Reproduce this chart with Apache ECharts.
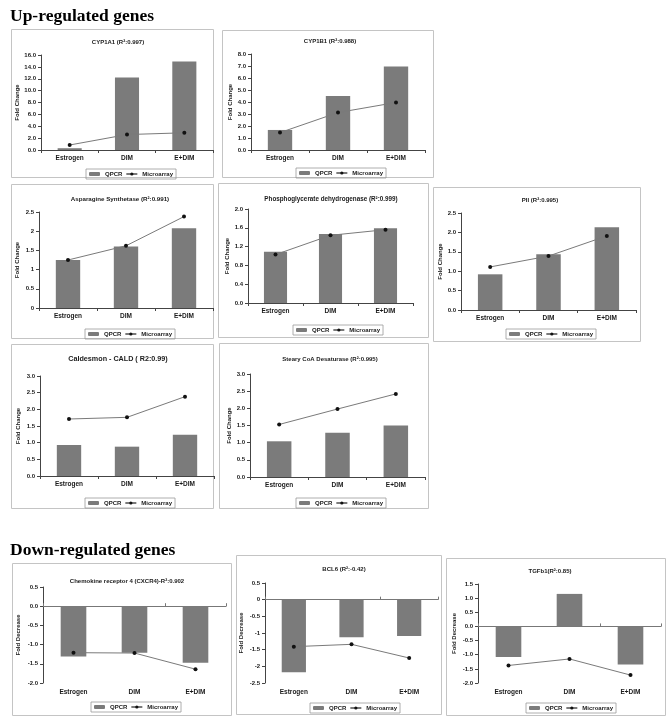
<!DOCTYPE html>
<html>
<head>
<meta charset="utf-8">
<script src="https://cdn.jsdelivr.net/npm/echarts@6/dist/echarts.min.js"></script>
<style>
html,body{margin:0;padding:0;background:#fff;}
#chart{width:669px;height:724px;}
</style>
</head>
<body>
<div id="chart"></div>
<script>
// ---- data ----
const categories = ['Estrogen', 'DIM', 'E+DIM'];
const seriesNames = ['QPCR', 'Microarray'];

const cyp1a1Qpcr = [0.3, 12.2, 14.9];
const cyp1a1Micro = [0.84, 2.6, 2.9];
const cyp1b1Qpcr = [1.67, 4.51, 6.95];
const cyp1b1Micro = [1.45, 3.12, 3.96];
const asnsQpcr = [1.25, 1.60, 2.08];
const asnsMicro = [1.25, 1.62, 2.38];
const phgdhQpcr = [1.09, 1.47, 1.59];
const phgdhMicro = [1.03, 1.44, 1.56];
const piiQpcr = [0.92, 1.44, 2.13];
const piiMicro = [1.11, 1.39, 1.91];
const caldQpcr = [0.93, 0.88, 1.24];
const caldMicro = [1.71, 1.76, 2.38];
const scdQpcr = [1.04, 1.29, 1.50];
const scdMicro = [1.53, 1.98, 2.42];
const cxcr4Qpcr = [-1.31, -1.21, -1.47];
const cxcr4Micro = [-1.21, -1.22, -1.64];
const bcl6Qpcr = [-2.18, -1.13, -1.09];
const bcl6Micro = [-1.41, -1.34, -1.75];
const tgfb1Qpcr = [-1.08, 1.15, -1.35];
const tgfb1Micro = [-1.38, -1.15, -1.72];

const headings = ['Up-regulated genes', 'Down-regulated genes'];

// ---- layout ----
const FONT = '"Liberation Sans", Arial, sans-serif';
const panels = [
  {title:'CYP1A1 (R²:0.997)', qpcr:cyp1a1Qpcr, micro:cyp1a1Micro, yName:'Fold Change', yMin:0, yMax:16, yStep:2, dec:1,
   box:[11,29,202,148], grid:[41,55,172,95], tpos:[113,38], tsize:6, gap:19, legend:[86,169]},
  {title:'CYP1B1 (R²:0.988)', qpcr:cyp1b1Qpcr, micro:cyp1b1Micro, yName:'Fold Change', yMin:0, yMax:8, yStep:1, dec:1,
   box:[222,30,211,147], grid:[251,54,174,96], tpos:[325,37], tsize:6, gap:18, legend:[296,168]},
  {title:'Asparagine Synthetase (R²:0.991)', qpcr:asnsQpcr, micro:asnsMicro, yName:'Fold Change', yMin:0, yMax:2.5, yStep:0.5, dec:null,
   box:[11,184,202,154], grid:[39,212,174,96], tpos:[115,195], tsize:6.2, gap:19, legend:[85,329]},
  {title:'Phosphoglycerate dehydrogenase (R²:0.999)', qpcr:phgdhQpcr, micro:phgdhMicro, yName:'Fold Change', yMin:0, yMax:2.0, yStep:0.4, dec:1,
   box:[218,183,210,154], grid:[248,209,165,94], tpos:[326,195], tsize:6.3, gap:17, legend:[293,325]},
  {title:'PII (R²:0.995)', qpcr:piiQpcr, micro:piiMicro, yName:'Fold Change', yMin:0, yMax:2.5, yStep:0.5, dec:1,
   box:[433,187,207,154], grid:[461,213,175,97], tpos:[535,196], tsize:6, gap:18, legend:[506,329]},
  {title:'Caldesmon - CALD ( R2:0.99)', qpcr:caldQpcr, micro:caldMicro, yName:'Fold Change', yMin:0, yMax:3, yStep:0.5, dec:1,
   box:[11,344,202,164], grid:[40,376,174,100], tpos:[113,355], tsize:7.2, gap:19, legend:[85,498]},
  {title:'Steary CoA Desaturase (R²:0.995)', qpcr:scdQpcr, micro:scdMicro, yName:'Fold Change', yMin:0, yMax:3, yStep:0.5, dec:1,
   box:[219,343,209,165], grid:[250,374,175,103], tpos:[325,355], tsize:6, gap:18, legend:[296,498]},
  {title:'Chemokine receptor 4 (CXCR4)-R²:0.902', qpcr:cxcr4Qpcr, micro:cxcr4Micro, yName:'Fold Decrease', yMin:-2, yMax:0.5, yStep:0.5, dec:1, down:true,
   box:[12,563,219,152], grid:[43,587,183,96], tpos:[122,577], tsize:6, gap:22, legend:[91,702]},
  {title:'BCL6 (R²:-0.42)', qpcr:bcl6Qpcr, micro:bcl6Micro, yName:'Fold Decrease', yMin:-2.5, yMax:0.5, yStep:0.5, dec:null, down:true,
   box:[236,555,205,159], grid:[265,583,173,100], tpos:[339,565], tsize:6, gap:21, legend:[310,703]},
  {title:'TGFb1(R²:0.85)', qpcr:tgfb1Qpcr, micro:tgfb1Micro, yName:'Fold Decrease', yMin:-2, yMax:1.5, yStep:0.5, dec:1, down:true,
   box:[446,558,219,157], grid:[478,584,183,99], tpos:[545,567], tsize:6, gap:21, legend:[526,703]}
];

const AXIS_COLOR = '#444';
const TEXT_COLOR = '#1a1a1a';

const titles = [], legends = [], grids = [], xAxes = [], yAxes = [], series = [], graphics = [];

panels.forEach((p, i) => {
  titles.push({
    text: p.title, left: p.tpos[0], top: p.tpos[1] - p.tsize * 0.6, textAlign: 'center',
    textStyle: {fontSize: p.tsize, fontWeight: 'bold', fontFamily: FONT, color: TEXT_COLOR}
  });
  legends.push({
    data: seriesNames, left: p.legend[0], top: p.legend[1], orient: 'horizontal',
    itemWidth: 11, itemHeight: 4, itemGap: 3, padding: [2, 3],
    borderColor: '#9a9a9a', borderWidth: 0.8,
    textStyle: {fontSize: 6, fontWeight: 'bold', fontFamily: FONT, color: TEXT_COLOR}
  });
  grids.push({left: p.grid[0], top: p.grid[1], width: p.grid[2], height: p.grid[3]});

  const labelAxisIndex = xAxes.length;
  xAxes.push({
    gridIndex: i, type: 'category', data: categories, position: 'bottom',
    axisLine: {show: !p.down, onZero: false, lineStyle: {color: AXIS_COLOR, width: 1}},
    axisTick: {show: !p.down, length: 3, lineStyle: {color: AXIS_COLOR}},
    axisLabel: {fontSize: 6.5, fontWeight: 'bold', fontFamily: FONT, color: TEXT_COLOR, margin: p.down ? 6 : 5}
  });
  if (p.down) {
    xAxes.push({
      gridIndex: i, type: 'category', data: categories, position: 'top',
      axisLine: {show: true, onZero: true, lineStyle: {color: '#777', width: 1}},
      axisTick: {show: true, length: 3, lineStyle: {color: '#777'}},
      axisLabel: {show: false}
    });
  }
  yAxes.push({
    gridIndex: i, type: 'value', min: p.yMin, max: p.yMax, interval: p.yStep,
    name: p.yName, nameLocation: 'middle', nameGap: p.gap,
    nameTextStyle: {fontSize: 6, fontWeight: 'bold', fontFamily: FONT, color: TEXT_COLOR},
    axisLine: {show: true, lineStyle: {color: AXIS_COLOR, width: 1}},
    axisTick: {show: true, length: 3, lineStyle: {color: AXIS_COLOR}},
    splitLine: {show: false},
    axisLabel: {
      fontSize: 6, fontWeight: 'bold', fontFamily: FONT, color: TEXT_COLOR, margin: 5,
      formatter: p.dec === null ? (v => String(+v.toFixed(2))) : (v => v.toFixed(p.dec))
    }
  });
  series.push({
    type: 'bar', name: seriesNames[0], xAxisIndex: labelAxisIndex, yAxisIndex: i,
    data: p.qpcr, barWidth: '42%', itemStyle: {color: '#7b7b7b'}
  });
  series.push({
    type: 'line', name: seriesNames[1], xAxisIndex: labelAxisIndex, yAxisIndex: i,
    data: p.micro, symbol: 'circle', symbolSize: 4,
    itemStyle: {color: '#111'}, lineStyle: {color: '#7a7a7a', width: 1}
  });
  graphics.push({
    type: 'rect', silent: true,
    shape: {x: p.box[0] + 0.5, y: p.box[1] + 0.5, width: p.box[2], height: p.box[3]},
    style: {fill: 'none', stroke: '#c4c4c4', lineWidth: 1}
  });
});

graphics.push({
  type: 'text', left: 10, top: 7,
  style: {text: headings[0], font: 'bold 17.5px "Liberation Serif", "Times New Roman", serif', fill: '#000'}
});
graphics.push({
  type: 'text', left: 10, top: 541,
  style: {text: headings[1], font: 'bold 17.5px "Liberation Serif", "Times New Roman", serif', fill: '#000'}
});

const chart = echarts.init(document.getElementById('chart'), null, {renderer: 'canvas'});
chart.setOption({
  backgroundColor: '#fff',
  animation: false,
  title: titles,
  legend: legends,
  grid: grids,
  xAxis: xAxes,
  yAxis: yAxes,
  series: series,
  graphic: graphics
});
</script>
</body>
</html>
